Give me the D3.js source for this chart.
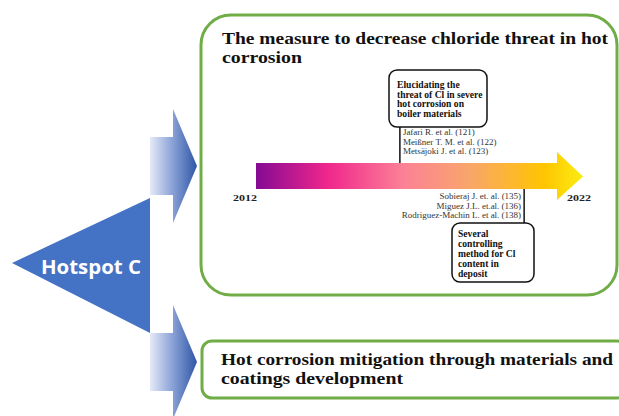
<!DOCTYPE html>
<html><head><meta charset="utf-8">
<script src="https://cdn.jsdelivr.net/npm/d3@7/dist/d3.min.js"></script>
<style>html,body{margin:0;padding:0;background:#fff;overflow:hidden}</style>
</head><body>
<svg id="c" width="619" height="416"></svg>
<script>
// ---- data ----
const hubLabel = "Hotspot C";
const boxTitles = [
  ["The measure to decrease chloride threat in hot", "corrosion"],
  ["Hot corrosion mitigation through materials and", "coatings development"]
];
const yearTicks = [2012, 2022];
const eventYears = [2016.4, 2020.2];
const eventSides = ["above", "below"];
const eventLabels = [
  ["Elucidating the", "threat of Cl in severe", "hot corrosion on", "boiler materials"],
  ["Several", "controlling", "method for Cl", "content in", "deposit"]
];
const eventRefs = [
  ["Jafari R. et al. (121)", "Meißner T. M.  et al. (122)", "Metsäjoki J. et al. (123)"],
  ["Sobieraj J. et. al. (135)", "Miguez J.L. et.al. (136)", "Rodriguez-Machin L. et al. (138)"]
];
const gradStops = [
  [0, "#850a94"], [0.22, "#f0278c"], [0.45, "#fb8196"], [0.65, "#f9a56c"], [0.88, "#ffc500"], [1, "#fbec12"]
];

// ---- drawing ----
const svg = d3.select("#c");
const defs = svg.append("defs");
const serif = "'Liberation Serif', 'DejaVu Serif', serif";

// gradients
const tg = defs.append("linearGradient").attr("id","tl").attr("gradientUnits","userSpaceOnUse")
  .attr("x1",256).attr("x2",583).attr("y1",0).attr("y2",0);
gradStops.forEach(s => tg.append("stop").attr("offset",s[0]).attr("stop-color",s[1]));
const ag = defs.append("linearGradient").attr("id","ar").attr("x1",0).attr("x2",1).attr("y1",0).attr("y2",0);
ag.append("stop").attr("offset",0).attr("stop-color","#e4eaf7");
ag.append("stop").attr("offset",0.55).attr("stop-color","#7d97d0");
ag.append("stop").attr("offset",1).attr("stop-color","#2f56a6");

// green boxes
svg.append("rect").attr("x",201).attr("y",15).attr("width",416).attr("height",280).attr("rx",30)
  .attr("fill","#fff").attr("stroke","#70ad47").attr("stroke-width",3);
svg.append("rect").attr("x",202).attr("y",341).attr("width",425).attr("height",57).attr("rx",10)
  .attr("fill","#fff").attr("stroke","#70ad47").attr("stroke-width",3);

// hub triangle
svg.append("path").attr("d","M12,263 L150,198 L150,333 Z").attr("fill","#4472c4");
svg.append("text").attr("x",41).attr("y",274)
  .attr("font-family","'Open Sans', 'Noto Sans', sans-serif").attr("font-weight","bold")
  .attr("font-size",20).attr("fill","#fff")
  .attr("textLength",100).attr("lengthAdjust","spacingAndGlyphs").text(hubLabel);

// blue block arrows
function blockArrow(cy){
  return `M150,${cy-29} L173,${cy-29} L173,${cy-57} L197,${cy} L173,${cy+57} L173,${cy+29} L150,${cy+29} Z`;
}
[166, 362].forEach(cy => svg.append("path").attr("d", blockArrow(cy)).attr("fill","url(#ar)"));

// titles: [x, baseline1, baseline2, width1, width2]
const titlePos = [[222, 44, 63, 386, 80], [221, 365, 384, 392, 182]];
boxTitles.forEach((lines, i) => {
  const p = titlePos[i];
  lines.forEach((t, j) => {
    svg.append("text").attr("x", p[0]).attr("y", j === 0 ? p[1] : p[2])
      .attr("font-family", serif).attr("font-weight","bold").attr("font-size",17.5)
      .attr("fill","#111").attr("textLength", j === 0 ? p[3] : p[4])
      .attr("lengthAdjust","spacingAndGlyphs").text(t);
  });
});

// timeline
const x = d3.scaleLinear().domain([yearTicks[0], yearTicks[1]]).range([256, 583]);
const headX = 557, barTop = 163, barBot = 189, headTop = 152, headBot = 200;
const tip = x(yearTicks[1]), cyb = (barTop + barBot) / 2 + 0.5;
svg.append("path")
  .attr("d", `M${x(yearTicks[0])},${barTop} L${headX},${barTop} L${headX},${headTop} L${tip},${cyb} L${headX},${headBot} L${headX},${barBot} L${x(yearTicks[0])},${barBot} Z`)
  .attr("fill","url(#tl)");

// year labels
svg.selectAll("text.yr").data(yearTicks).join("text").attr("class","yr")
  .attr("x", (d,i) => i === 0 ? x(d) - 23 : x(d) - 16).attr("y", 201)
  .attr("font-family", serif).attr("font-weight","bold").attr("font-size",9)
  .attr("fill","#222").attr("textLength",24).attr("lengthAdjust","spacingAndGlyphs").text(d => d);

// events
const boxGeom = [
  {x:389, y:70, w:98, h:57, tx:397, ty:88, lh:9.7},
  {x:452, y:223, w:82, h:59, tx:458, ty:236.5, lh:10}
];
eventYears.forEach((yr, i) => {
  const ex = x(yr), g = boxGeom[i], above = eventSides[i] === "above";
  svg.append("line").attr("x1", ex).attr("x2", ex)
    .attr("y1", above ? g.y + g.h : barBot).attr("y2", above ? barTop : g.y)
    .attr("stroke","#111").attr("stroke-width",1.5);
  svg.append("rect").attr("x", g.x).attr("y", g.y).attr("width", g.w).attr("height", g.h).attr("rx", 8)
    .attr("fill","#fff").attr("stroke","#111").attr("stroke-width",1.5);
  eventLabels[i].forEach((t, j) => svg.append("text").attr("x", g.tx).attr("y", g.ty + j * g.lh)
    .attr("font-family", serif).attr("font-weight","bold").attr("font-size",9.6)
    .attr("fill","#111").text(t));
  eventRefs[i].forEach((t, j) => svg.append("text")
    .attr("x", above ? ex + 3 : ex - 3).attr("y", (above ? 135 : 199) + j * 9.5)
    .attr("text-anchor", above ? "start" : "end")
    .attr("font-family", serif).attr("font-size",9).attr("fill","#333").text(t));
});
</script>
</body></html>
